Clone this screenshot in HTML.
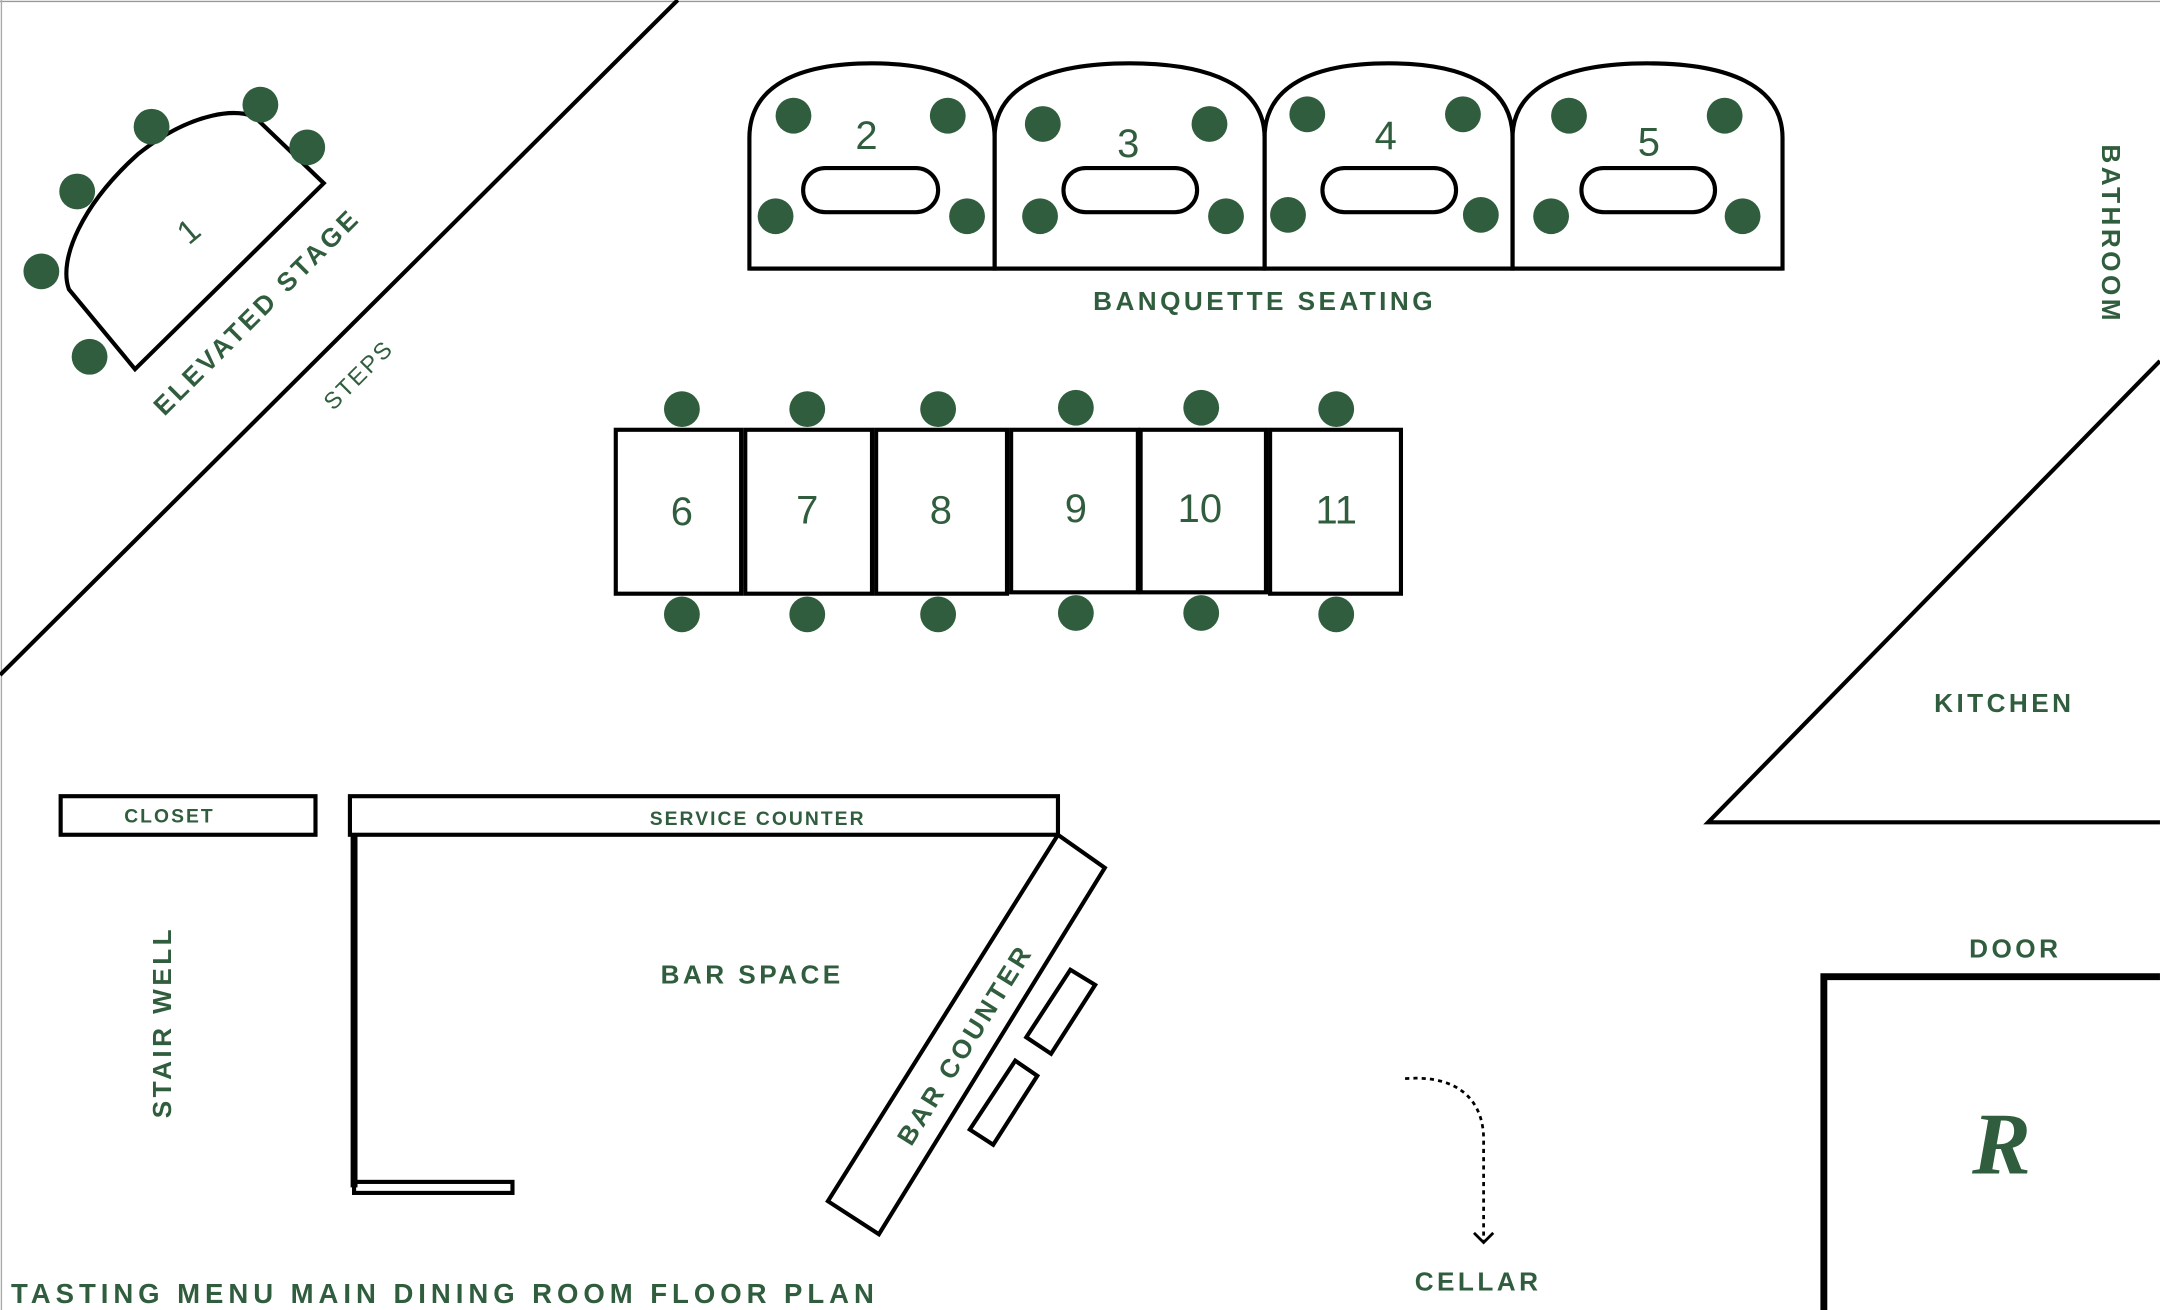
<!DOCTYPE html>
<html><head><meta charset="utf-8"><style>
html,body{margin:0;padding:0;background:#fff;}
svg{display:block;}
text{font-family:"Liberation Sans",sans-serif;fill:#305d3d;}
.b{font-weight:bold;letter-spacing:2.5px;}
.n{font-size:29px;text-anchor:middle;}
</style></head><body>
<svg width="2160" height="1310" viewBox="0 0 1568 951" xmlns="http://www.w3.org/2000/svg">
<rect x="0" y="0" width="1568" height="951" fill="#fff"/>
<line x1="0" y1="1" x2="1568" y2="1" stroke="#999" stroke-width="1"/>
<line x1="1" y1="0" x2="1" y2="951" stroke="#aaa" stroke-width="1"/>
<g stroke="#000" stroke-width="3" fill="none">
<line x1="0" y1="490" x2="492" y2="0"/>
<path d="M98,268 L235,133 L186,86 C175,78 140,80 100,112 C60,148 42,188 50,210 Z"/>
<path d="M544,195 V100 C544,62 580,46 633,46 C686,46 722,62 722,100 V195 Z"/>
<path d="M722,195 V100 C722,62 762,46 820,46 C878,46 918,62 918,100 V195 Z"/>
<path d="M918,195 V100 C918,62 954,46 1008,46 C1062,46 1098,62 1098,100 V195 Z"/>
<path d="M1098,195 V100 C1098,62 1138,46 1196,46 C1254,46 1294,62 1294,100 V195 Z"/>
<line x1="544" y1="195" x2="1294" y2="195"/>
<rect x="583" y="122" width="98" height="32" rx="16"/>
<rect x="772" y="122" width="97" height="32" rx="16"/>
<rect x="960" y="122" width="97" height="32" rx="16"/>
<rect x="1148" y="122" width="97" height="32" rx="16"/>
<rect x="447" y="312" width="91" height="119"/>
<rect x="541" y="312" width="92" height="119"/>
<rect x="636" y="312" width="95" height="119"/>
<rect x="734" y="312" width="92" height="118"/>
<rect x="828" y="312" width="91" height="118"/>
<rect x="922" y="312" width="95" height="119"/>
<path d="M1568,262 L1240,597 L1568,597"/>
<rect x="44" y="578" width="185" height="28"/>
<rect x="254" y="578" width="514" height="28"/>
<line x1="257" y1="606" x2="257" y2="862" stroke-width="5"/>
<rect x="257" y="858" width="115" height="8"/>
<path d="M768,606 L802,630 L638,896 L601,872 Z"/>
<path d="M777,704 L795,715 L763,765 L745,753 Z"/>
<path d="M737,770 L753,781 L721,831 L704,820 Z"/>
<path d="M1568,709 H1324 V951" stroke-width="5"/>
<path d="M1020,783 C1060,780 1078,800 1077,830 L1077,902" stroke-dasharray="3,3" stroke-width="2"/>
<path d="M1070,895 L1077,902 L1084,895" stroke-width="2"/>
</g>
<g fill="#305d3d">
<circle cx="30" cy="197" r="13"/><circle cx="56" cy="139" r="13"/><circle cx="110" cy="92" r="13"/>
<circle cx="189" cy="76" r="13"/><circle cx="223" cy="107" r="13"/><circle cx="65" cy="259" r="13"/>
<circle cx="576" cy="84" r="13"/><circle cx="688" cy="84" r="13"/><circle cx="563" cy="157" r="13"/><circle cx="702" cy="157" r="13"/>
<circle cx="757" cy="90" r="13"/><circle cx="878" cy="90" r="13"/><circle cx="755" cy="157" r="13"/><circle cx="890" cy="157" r="13"/>
<circle cx="949" cy="83" r="13"/><circle cx="1062" cy="83" r="13"/><circle cx="935" cy="156" r="13"/><circle cx="1075" cy="156" r="13"/>
<circle cx="1139" cy="84" r="13"/><circle cx="1252" cy="84" r="13"/><circle cx="1126" cy="157" r="13"/><circle cx="1265" cy="157" r="13"/>
<circle cx="495" cy="297" r="13"/><circle cx="586" cy="297" r="13"/><circle cx="681" cy="297" r="13"/><circle cx="781" cy="296" r="13"/><circle cx="872" cy="296" r="13"/><circle cx="970" cy="297" r="13"/>
<circle cx="495" cy="446" r="13"/><circle cx="586" cy="446" r="13"/><circle cx="681" cy="446" r="13"/><circle cx="781" cy="445" r="13"/><circle cx="872" cy="445" r="13"/><circle cx="970" cy="446" r="13"/>
</g>
<text class="n" x="137" y="176" transform="rotate(-40 137 168)" style="font-size:24px">1</text>
<text class="n" x="629" y="108">2</text>
<text class="n" x="819" y="114">3</text>
<text class="n" x="1006" y="108">4</text>
<text class="n" x="1197" y="113">5</text>
<text class="n" x="495" y="381">6</text>
<text class="n" x="586" y="380">7</text>
<text class="n" x="683" y="380">8</text>
<text class="n" x="781" y="379">9</text>
<text class="n" x="871" y="379">10</text>
<text class="n" x="970" y="380">11</text>
<text class="b" x="186" y="233" text-anchor="middle" font-size="19" transform="rotate(-45 186 226)">ELEVATED STAGE</text>
<text x="260" y="278" text-anchor="middle" font-size="17" letter-spacing="1.5" transform="rotate(-45 260 272)">STEPS</text>
<text class="b" x="918" y="225" text-anchor="middle" font-size="19">BANQUETTE SEATING</text>
<text class="b" x="1533" y="177" text-anchor="middle" font-size="19" transform="rotate(90 1533 170)">BATHROOM</text>
<text class="b" x="1455" y="517" text-anchor="middle" font-size="19">KITCHEN</text>
<text class="b" x="1463" y="695" text-anchor="middle" font-size="19">DOOR</text>
<text x="1453" y="852" text-anchor="middle" font-size="64" font-style="italic" font-weight="bold" style="font-family:'Liberation Serif',serif">R</text>
<text class="b" x="123" y="597" text-anchor="middle" font-size="14" style="letter-spacing:1.5px">CLOSET</text>
<text class="b" x="550" y="599" text-anchor="middle" font-size="14" style="letter-spacing:1.5px">SERVICE COUNTER</text>
<text class="b" x="546" y="714" text-anchor="middle" font-size="19">BAR SPACE</text>
<text class="b" x="700" y="765" text-anchor="middle" font-size="19" transform="rotate(-58 700 758)">BAR COUNTER</text>
<text class="b" x="117" y="749" text-anchor="middle" font-size="19" transform="rotate(-90 117 742)">STAIR WELL</text>
<text class="b" x="1073" y="937" text-anchor="middle" font-size="19">CELLAR</text>
<text class="b" x="8" y="946" font-size="20" style="letter-spacing:3.6px">TASTING MENU MAIN DINING ROOM FLOOR PLAN</text>
</svg>
</body></html>
